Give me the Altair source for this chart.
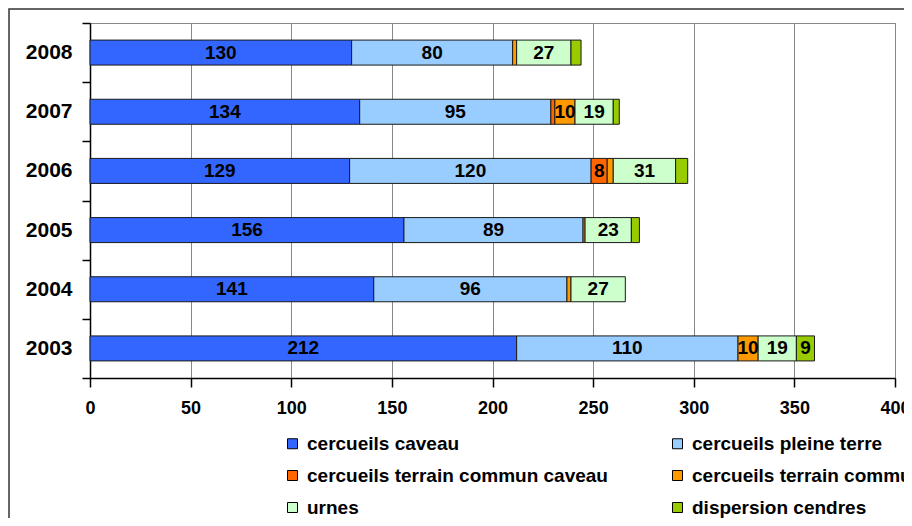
import altair as alt
import pandas as pd

years = ["2008", "2007", "2006", "2005", "2004", "2003"]
categories = [
    "cercueils caveau",
    "cercueils pleine terre",
    "cercueils terrain commun caveau",
    "cercueils terrain commun pleine terre",
    "urnes",
    "dispersion cendres",
]
colors = ["#3366FF", "#99CCFF", "#FF6600", "#FF9900", "#CCFFCC", "#99CC00"]

caveau = [130, 134, 129, 156, 141, 212]
pleine_terre = [80, 95, 120, 89, 96, 110]
tc_caveau = [0, 2, 8, 0, 0, 0]
tc_pleine_terre = [2, 10, 3, 1, 2, 10]
urnes = [27, 19, 31, 23, 27, 19]
dispersion = [5, 3, 6, 4, 0, 9]

series = [caveau, pleine_terre, tc_caveau, tc_pleine_terre, urnes, dispersion]
rows = []
for ci, (cat, vals) in enumerate(zip(categories, series)):
    for y, v in zip(years, vals):
        rows.append({"year": y, "cat": cat, "value": v, "order": ci})
df = pd.DataFrame(rows)

W, H = 805, 355
FONT = "Liberation Sans"

base = (
    alt.Chart(df)
    .transform_filter("datum.value > 0")
    .transform_stack(
        stack="value",
        groupby=["year"],
        sort=[alt.SortField("order", order="ascending")],
        as_=["x0", "x1"],
    )
    .transform_calculate(mid="(datum.x0 + datum.x1) / 2")
)

yenc = alt.Y(
    "year:N",
    sort=years,
    scale=alt.Scale(paddingInner=0, paddingOuter=0),
    axis=alt.Axis(
        title=None,
        tickBand="extent",
        tickSize=8,
        tickColor="#000",
        domainColor="#000",
        domainWidth=1.5,
        tickWidth=1.5,
        labelFont=FONT,
        labelFontSize=21,
        labelFontWeight="bold",
        labelColor="#000",
        labelPadding=10,
        grid=False,
    ),
)

bars = base.mark_bar(size=25, stroke="#1a1a1a", strokeWidth=1).encode(
    y=yenc,
    x=alt.X(
        "x0:Q",
        scale=alt.Scale(domain=[0, 400], nice=False),
        axis=alt.Axis(
            title=None,
            values=[0, 50, 100, 150, 200, 250, 300, 350, 400],
            grid=True,
            gridColor="#888",
            gridWidth=1,
            tickSize=9,
            tickColor="#000",
            tickWidth=1.5,
            domainColor="#000",
            domainWidth=1.5,
            labelFont=FONT,
            labelFontSize=18,
            labelFontWeight="bold",
            labelColor="#000",
            labelPadding=12,
            labelFlush=False,
            labelOverlap=False,
        ),
    ),
    x2="x1:Q",
    color=alt.Color(
        "cat:N",
        scale=alt.Scale(domain=categories, range=colors),
        legend=alt.Legend(
            title=None,
            orient="none",
            direction="horizontal",
            legendX=193,
            legendY=411,
            columns=2,
            columnPadding=60,
            rowPadding=12,
            symbolType="square",
            symbolSize=100,
            symbolStrokeColor="#000",
            symbolStrokeWidth=1,
            labelFont=FONT,
            labelFontSize=19,
            labelFontWeight="bold",
            labelColor="#000",
            labelOffset=5,
            labelLimit=1000,
            gridAlign="each",
        ),
    ),
)

texts = base.transform_filter("datum.value >= 8").mark_text(
    font=FONT, fontSize=19, fontWeight="bold", color="#000", align="center", baseline="middle"
).encode(
    x="mid:Q",
    y=alt.Y("year:N", sort=years),
    text="value:Q",
)

frame = alt.Chart(pd.DataFrame({"a": [0]})).mark_rect(
    fill=None, stroke="#333", strokeWidth=1.5
).encode(
    x=alt.value(-81), x2=alt.value(W + 300), y=alt.value(-14), y2=alt.value(H + 400)
)

chart = (
    alt.layer(frame, bars, texts)
    .properties(
        width=W,
        height=H,
        autosize=alt.AutoSizeParams(type="none"),
        padding={"left": 82, "top": 15, "right": 9, "bottom": 140},
    )
    .configure_view(stroke="#888", strokeWidth=1)
)

chart.save("out.html", embed_options={"renderer": "svg", "actions": False})
